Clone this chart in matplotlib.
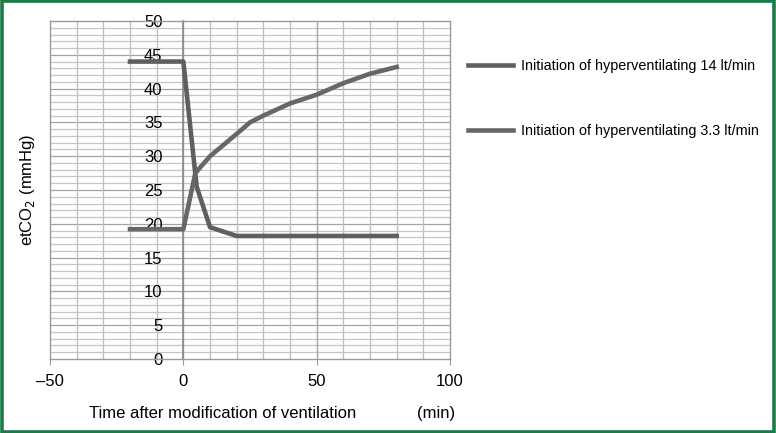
import matplotlib
matplotlib.use("Agg")
import matplotlib.pyplot as plt
from matplotlib.patches import Rectangle

plt.rcParams["font.family"] = ["Liberation Sans", "DejaVu Sans"]

# datos
t_14 = [-20, 0, 5, 10, 20, 80]
co2_14 = [44.0, 44.0, 25.5, 19.5, 18.2, 18.2]

t_33 = [-20, 0, 4.5, 10, 20, 25, 30, 40, 50, 60, 70, 80]
co2_33 = [19.2, 19.2, 27.5, 30.0, 33.3, 35.0, 36.0, 37.8, 39.1, 40.8, 42.2, 43.2]

etiquetas = ["Initiation of hyperventilating 14 lt/min",
             "Initiation of hyperventilating 3.3 lt/min"]
xticks = [-50, 0, 50, 100]
yticks = list(range(0, 51, 5))

fig = plt.figure(figsize=(7.76, 4.33), dpi=100)
ax = fig.add_axes([50 / 776, 74 / 433, 400 / 776, 338 / 433])

ax.set_xlim(-50, 100)
ax.set_ylim(0, 50)

# cuadricula: horizontales cada 1, mas oscuras cada 5, verticales cada 10
for y in range(1, 50):
    c = "#a4a4a4" if y % 5 == 0 else "#c6c6c6"
    ax.axhline(y, color=c, lw=0.9, zorder=0)
for x in range(-40, 100, 10):
    c = "#a4a4a4" if x % 50 == 0 else "#c0c0c0"
    ax.axvline(x, color=c, lw=1.0, zorder=0)

l1, = ax.plot(t_14, co2_14, color="#5f5f5f", lw=3.3, solid_joinstyle="round", zorder=3)
l2, = ax.plot(t_33, co2_33, color="#676767", lw=3.3, solid_joinstyle="round", zorder=3)

for s in ["top", "right", "bottom"]:
    ax.spines[s].set_color("#9a9a9a")
    ax.spines[s].set_linewidth(1.0)
ax.spines["left"].set_position(("data", 0))
ax.spines["left"].set_color("#8a8a8a")
ax.spines["left"].set_linewidth(1.2)
ax.plot([-50, -50], [0, 50], color="#9a9a9a", lw=1.0, clip_on=False, zorder=1)

ax.set_xticks(xticks)
ax.set_xticklabels(["\u201350", "0", "50", "100"])
ax.set_yticks(yticks)
ax.tick_params(axis="x", length=4, color="#9a9a9a", labelsize=12, pad=7)
ax.tick_params(axis="y", length=0, labelsize=12, pad=15)

ax.set_ylabel("etCO$_2$ (mmHg)", fontsize=12)
ax.yaxis.set_label_coords(-0.057, 0.5)
ax.yaxis.label.set_va("center")
ax.set_xlabel("Time after modification of ventilation", fontsize=12)
ax.xaxis.set_label_coords(0.431, -0.16)
ax.xaxis.label.set_va("center")
ax.text(0.965, -0.16, "(min)", transform=ax.transAxes, fontsize=12,
        ha="center", va="center")

fig.legend([l1, l2], etiquetas, loc="upper left",
           bbox_to_anchor=(455 / 776, 1 - 46 / 433), frameon=False,
           fontsize=10.4, handlelength=3.1, handletextpad=0.6,
           labelspacing=3.5)

fig.patches.append(Rectangle((0.002, 0.003), 0.996, 0.994, transform=fig.transFigure,
                             fill=False, edgecolor="#1b7b47", lw=2.6))

fig.savefig("out.png", dpi=100)
